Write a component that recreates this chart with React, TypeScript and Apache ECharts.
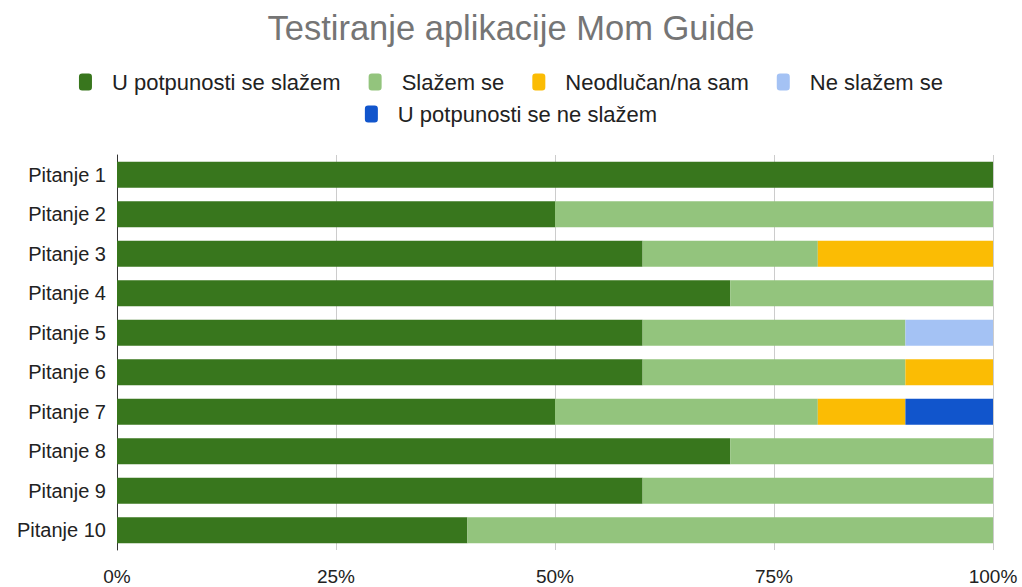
import React, { useEffect, useRef } from "react";
import * as echarts from "echarts";

const categories = ["Pitanje 1", "Pitanje 2", "Pitanje 3", "Pitanje 4", "Pitanje 5", "Pitanje 6", "Pitanje 7", "Pitanje 8", "Pitanje 9", "Pitanje 10"];
const seriesNames = ["U potpunosti se slažem", "Slažem se", "Neodlučan/na sam", "Ne slažem se", "U potpunosti se ne slažem"];
const stronglyAgree = [100, 50, 60, 70, 60, 60, 50, 70, 60, 40];
const agree = [0, 50, 20, 30, 30, 30, 30, 30, 40, 60];
const undecided = [0, 0, 20, 0, 0, 10, 10, 0, 0, 0];
const disagree = [0, 0, 0, 0, 10, 0, 0, 0, 0, 0];
const stronglyDisagree = [0, 0, 0, 0, 0, 0, 10, 0, 0, 0];
const colors = ["#38761d", "#93c47d", "#fbbc04", "#a4c2f4", "#1155cc"];

export default function App() {
  const ref = useRef<HTMLDivElement>(null);
  useEffect(() => {
    if (!ref.current) return;
    const chart = echarts.init(ref.current, null, { renderer: "svg" });
    const values = [stronglyAgree, agree, undecided, disagree, stronglyDisagree];
    const font = "Arial, 'Liberation Sans', sans-serif";
    const legendCommon = {
      icon: "roundRect",
      itemWidth: 13,
      itemHeight: 17,
      itemGap: 28,
      textStyle: { fontSize: 22, color: "#222", fontFamily: font, padding: [0, 0, 0, 15] },
      left: "center",
    };
    chart.setOption({
      animation: false,
      color: colors,
      title: {
        text: "Testiranje aplikacije Mom Guide",
        left: "center",
        top: 5,
        textStyle: { fontSize: 34.5, fontWeight: "normal", color: "#757575", fontFamily: font },
      },
      legend: [
        { ...legendCommon, top: 66, data: seriesNames.slice(0, 4) },
        { ...legendCommon, top: 98, data: seriesNames.slice(4) },
      ],
      grid: { left: 117, right: 29, top: 155, bottom: 37, containLabel: false },
      xAxis: {
        type: "value",
        min: 0,
        max: 100,
        interval: 25,
        axisLabel: { formatter: "{value}%", fontSize: 19, color: "#222", fontFamily: font, margin: 17 },
        splitLine: { lineStyle: { color: "#cccccc" } },
        axisLine: { show: false },
        axisTick: { show: false },
      },
      yAxis: {
        type: "category",
        data: categories,
        inverse: true,
        axisLabel: { fontSize: 20, color: "#222", fontFamily: font, margin: 11 },
        axisLine: { show: true, lineStyle: { color: "#333", width: 1 } },
        axisTick: { show: false },
      },
      series: seriesNames.map((name, i) => ({
        name,
        type: "bar",
        stack: "total",
        barWidth: 26,
        data: values[i],
        itemStyle: { color: colors[i] },
      })),
    });
    return () => chart.dispose();
  }, []);
  return (
    <div
      ref={ref}
      style={{ position: "fixed", left: 0, top: 0, width: 1022, height: 587, background: "#fff" }}
    />
  );
}
